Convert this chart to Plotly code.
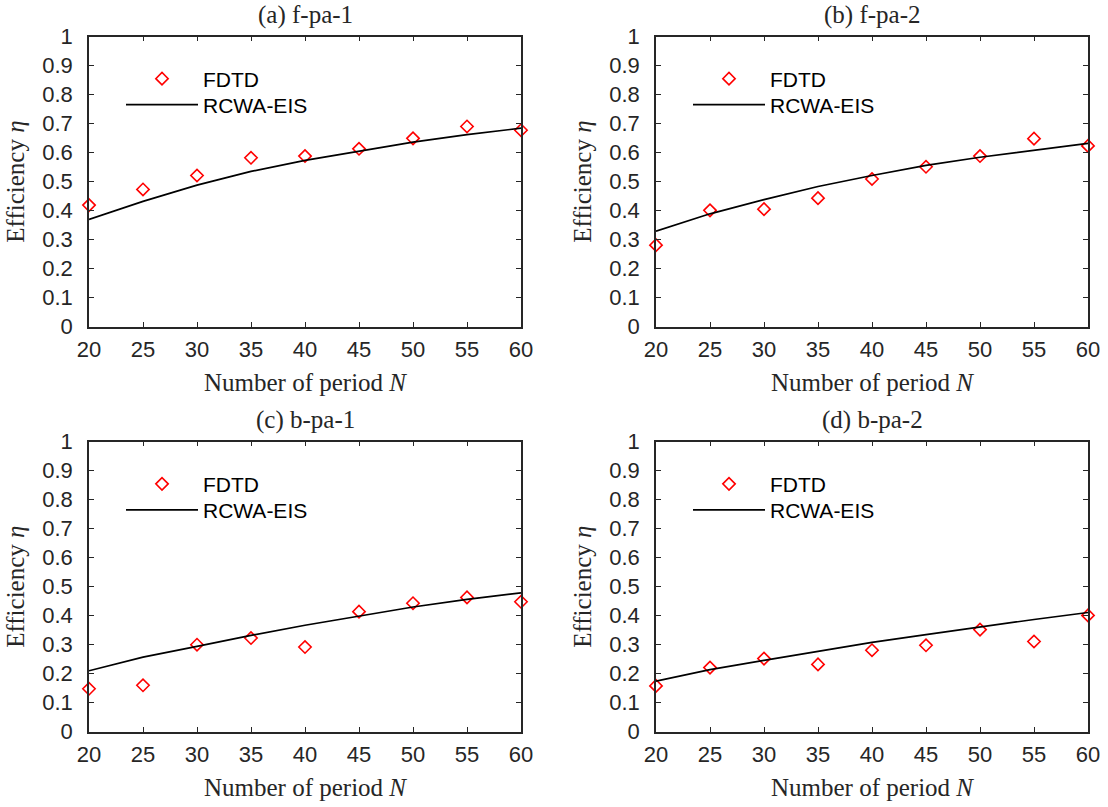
import plotly.graph_objects as go

# ---------------- data ----------------
N = [20, 25, 30, 35, 40, 45, 50, 55, 60]

titles = ["(a) f-pa-1", "(b) f-pa-2", "(c) b-pa-1", "(d) b-pa-2"]

fdtd_a = [0.419, 0.473, 0.521, 0.582, 0.588, 0.613, 0.649, 0.690, 0.677]
rcwa_a = [0.370, 0.432, 0.488, 0.535, 0.573, 0.605, 0.636, 0.662, 0.684]

fdtd_b = [0.281, 0.401, 0.405, 0.443, 0.509, 0.551, 0.588, 0.648, 0.623]
rcwa_b = [0.329, 0.389, 0.438, 0.483, 0.521, 0.556, 0.584, 0.609, 0.632]

fdtd_c = [0.148, 0.160, 0.300, 0.323, 0.292, 0.414, 0.443, 0.463, 0.448]
rcwa_c = [0.210, 0.257, 0.294, 0.332, 0.367, 0.399, 0.430, 0.456, 0.479]

fdtd_d = [0.158, 0.221, 0.252, 0.232, 0.281, 0.298, 0.352, 0.311, 0.401]
rcwa_d = [0.174, 0.214, 0.246, 0.278, 0.308, 0.335, 0.362, 0.387, 0.411]

x_ticks = [20, 25, 30, 35, 40, 45, 50, 55, 60]
y_ticks = [0, 0.1, 0.2, 0.3, 0.4, 0.5, 0.6, 0.7, 0.8, 0.9, 1]

x_title = "Number of period <i>N</i>"
y_title = "Efficiency <i>η</i>"
name_fdtd = "FDTD"
name_rcwa = "RCWA-EIS"

fdtd_all = [fdtd_a, fdtd_b, fdtd_c, fdtd_d]
rcwa_all = [rcwa_a, rcwa_b, rcwa_c, rcwa_d]

# ---------------- layout geometry ----------------
W, H = 1108, 807
x_px = [(89, 521), (656, 1088)]
y_px = [(36.5, 326.7), (441.7, 731.7)]   # (top, bottom) in pixels
x_doms = [(a / W, b / W) for a, b in x_px]
y_doms = [(1 - b / H, 1 - a / H) for a, b in y_px]

AX_COL = "#262626"
SANS = "Liberation Sans, Arial, Helvetica, sans-serif"
SERIF = "Liberation Serif, Times New Roman, serif"

fig = go.Figure()
layout = dict(
    template="none",
    width=W, height=H, autosize=False,
    margin=dict(l=0, r=0, t=0, b=0, pad=0),
    paper_bgcolor="white", plot_bgcolor="white",
    showlegend=True,
    annotations=[],
)

leg_count = 0
for i in range(4):
    row, col = divmod(i, 2)
    sfx = "" if i == 0 else str(i + 1)
    xa, ya = "x" + sfx, "y" + sfx

    leg_ids = []
    for _ in range(2):
        leg_count += 1
        leg_ids.append("legend" if leg_count == 1 else "legend" + str(leg_count))

    fig.add_trace(go.Scatter(
        x=N, y=fdtd_all[i], mode="markers", name=name_fdtd,
        xaxis=xa, yaxis=ya, legend=leg_ids[0], cliponaxis=False,
        marker=dict(symbol="diamond-open", size=9.5, color="#ff0000",
                    line=dict(width=1.6, color="#ff0000")),
    ))
    fig.add_trace(go.Scatter(
        x=N, y=rcwa_all[i], mode="lines", name=name_rcwa,
        xaxis=xa, yaxis=ya, legend=leg_ids[1], cliponaxis=False,
        line=dict(color="black", width=1.7),
    ))

    common = dict(
        automargin=False,
        showline=True, linecolor=AX_COL, linewidth=1.5, mirror="ticks",
        ticks="inside", ticklen=5, tickwidth=1.2, tickcolor=AX_COL,
        showgrid=False, zeroline=False, ticklabeloverflow="allow",
        tickfont=dict(family=SANS, size=22, color=AX_COL),
    )
    layout["xaxis" + sfx] = dict(
        common, domain=x_doms[col], anchor=ya, range=[20, 60],
        tickvals=x_ticks, ticklabelstandoff=2,
        title=dict(text=x_title, font=dict(family=SERIF, size=25, color=AX_COL),
                   standoff=13),
    )
    layout["yaxis" + sfx] = dict(
        common, domain=y_doms[row], anchor=xa, range=[0, 1],
        tickvals=y_ticks, ticklabelstandoff=10,
        title=dict(text=y_title, font=dict(family=SERIF, size=25, color=AX_COL),
                   standoff=10),
    )

    x0 = x_px[col][0]
    top_px = y_px[row][0]
    for k, dy in enumerate([41, 67]):
        layout[leg_ids[k]] = dict(
            x=(x0 + 32) / W, y=1 - (top_px + dy - 19) / H,
            xanchor="left", yanchor="top",
            bgcolor="rgba(0,0,0,0)", borderwidth=0,
            itemwidth=72, tracegroupgap=0,
            font=dict(family=SANS, size=21, color="black"),
        )

    cx = (x_doms[col][0] + x_doms[col][1]) / 2
    layout["annotations"].append(dict(
        text=titles[i], xref="paper", yref="paper",
        x=cx, y=1 - (top_px - 21.5) / H, xanchor="center", yanchor="middle",
        showarrow=False, font=dict(family=SERIF, size=25, color=AX_COL),
    ))

fig.update_layout(**layout)
fig.write_html(
    "out.html",
    config={"displayModeBar": False},
    post_script="document.body.style.margin='0px';document.body.style.overflow='hidden';",
)
